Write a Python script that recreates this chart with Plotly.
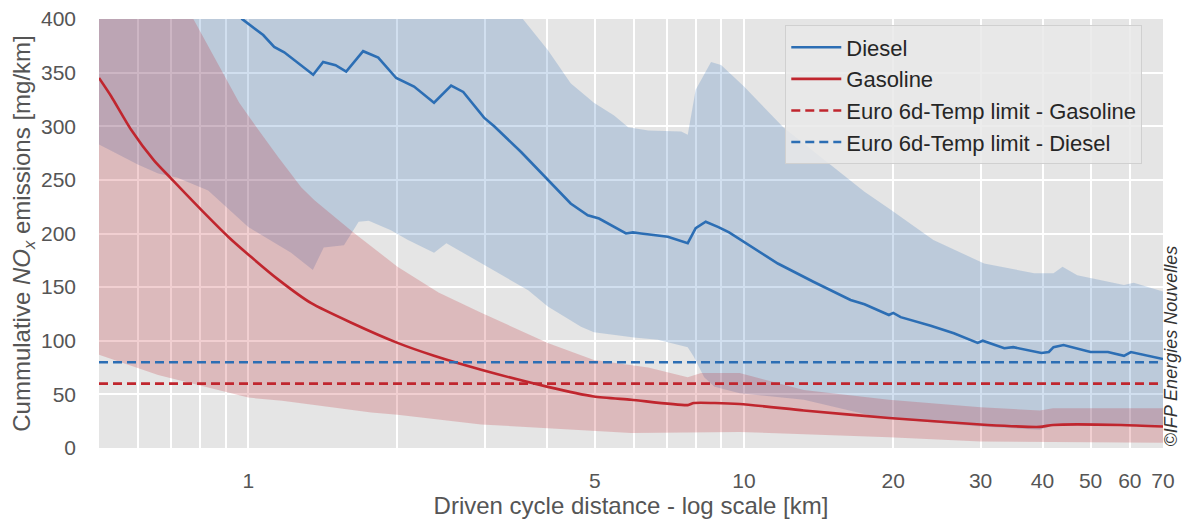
import plotly.graph_objects as go

# ---------------- data ----------------
diesel_x = [0.5, 0.6, 0.7, 0.8, 0.9, 0.972, 1.072, 1.128, 1.182, 1.279, 1.352, 1.416, 1.50, 1.576,
            1.705, 1.829, 1.988, 2.16, 2.37, 2.566, 2.714, 2.989, 3.134, 3.551, 4.02, 4.47, 4.84,
            5.10, 5.78, 5.97, 6.20, 7.02, 7.70, 7.99, 8.37, 8.88, 9.33, 10.0, 11.7, 13.8, 16.4,
            17.5, 19.6, 20.0, 20.7, 23.8, 26.5, 29.6, 30.3, 33.5, 34.9, 39.8, 41.2, 42.1, 44.1,
            50.0, 54.2, 58.4, 60.3, 70.0]
diesel_mean = [720, 610, 530, 470, 425, 400, 385, 374, 369, 357, 348, 360, 357, 351,
               370, 364, 345, 337, 322, 338, 332, 308, 300, 276, 250, 228, 217,
               214, 200, 201, 200, 197, 191, 205, 211, 206, 201, 192, 172, 155, 138,
               134, 124, 126, 122, 114, 107, 98, 100, 93, 94, 88.6, 89.5, 94, 96,
               89.5, 89.5, 86, 89.5, 83]

diesel_up_x = [0.5, 1.5, 3.0, 3.58, 4.02, 4.47, 4.98, 5.47, 5.84, 6.41, 7.47, 7.70, 7.99, 8.58,
               8.99, 10.0, 12.0, 14.8, 17.5, 19.8, 24.1, 30.5, 38.5, 42.1, 43.9, 47.0, 58.4,
               61.1, 70.0]
diesel_upper = [480, 460, 440, 400, 371, 340, 322, 310, 299, 296, 295, 292, 334, 360,
                357, 337, 299, 266, 239, 222, 194, 172, 163, 163, 169, 161, 152,
                154, 146]

diesel_lo_x = [0.5, 0.6, 0.658, 0.72, 0.83, 1.0, 1.22, 1.35, 1.42, 1.56, 1.67, 1.75, 1.94, 2.10,
               2.37, 2.51, 2.99, 3.67, 4.02, 4.69, 4.98, 6.0, 6.7, 7.7, 7.92, 8.31, 8.72, 9.8,
               13.2, 18.9, 30.0, 39.5, 42.0, 70.0]
diesel_lower = [283, 264, 256, 252, 240, 206, 182, 166, 187, 189, 211, 212, 203, 194,
                182, 191, 171, 147, 132, 113, 108, 103, 101, 94, 85, 66, 57, 51,
                45, 28, 20, 17, 21, 21]

gas_x = [0.5, 0.529, 0.58, 0.646, 0.70, 0.804, 0.911, 1.014, 1.15, 1.34, 1.61, 2.0, 2.37, 2.95,
         4.02, 4.98, 5.92, 7.7, 7.92, 9.8, 13.2, 19.6, 31.0, 39.5, 42.0, 57.6, 70.0]
gas_mean = [345, 328, 297, 268, 251, 222, 197, 178, 157, 135, 117, 98, 86, 73,
            57, 48, 45, 40, 42, 41, 35, 28, 21.5, 19.7, 21.5, 21.5, 20]

gas_up_x = [0.5, 0.65, 0.775, 0.911, 0.959, 1.014, 1.15, 1.28, 1.36, 1.63, 2.0, 2.42, 2.95, 4.02,
            4.98, 6.41, 7.7, 8.19, 9.8, 13.2, 19.6, 30.0, 39.5, 42.0, 70.0]
gas_upper = [520, 450, 400, 340, 322, 306, 271, 243, 231, 201, 169, 145, 126, 98,
             82, 75, 66, 70, 70, 54, 45, 38, 35, 37, 37]

gas_lo_x = [0.5, 0.658, 0.767, 1.0, 1.17, 1.36, 1.77, 2.0, 2.95, 4.02, 5.92, 9.8, 19.6, 30.0, 70.0]
gas_lower = [87, 68, 60, 47, 44, 40, 33, 31, 22, 18.6, 14, 15, 10, 6, 5]

limit_gasoline = 60
limit_diesel = 80
x_limits = [0.5, 70]

x_tick_vals = [1, 5, 10, 20, 30, 40, 50, 60, 70]
x_tick_text = ["1", "5", "10", "20", "30", "40", "50", "60", "70"]
x_minor_grid = [0.6, 0.7, 0.8, 0.9, 2, 3, 4, 6, 7, 8, 9]
y_ticks = [0, 50, 100, 150, 200, 250, 300, 350, 400]

# ---------------- styling ----------------
BLUE = "#2C6EB4"
RED = "#C0262E"
FONT = "Liberation Sans, Arial, sans-serif"

fig = go.Figure()


def band(xu, yu, xl, yl, color):
    fig.add_trace(go.Scatter(
        x=list(xu) + list(reversed(xl)),
        y=list(yu) + list(reversed(yl)),
        fill="toself", fillcolor=color, mode="lines",
        line=dict(width=0, color=color), showlegend=False, hoverinfo="skip"))


band(diesel_up_x, diesel_upper, diesel_lo_x, diesel_lower, "rgba(44,110,180,0.22)")
band(gas_up_x, gas_upper, gas_lo_x, gas_lower, "rgba(192,38,46,0.22)")

fig.add_trace(go.Scatter(x=diesel_x, y=diesel_mean, mode="lines", name="Diesel",
                         line=dict(color=BLUE, width=2.6), legendgroup="a"))
fig.add_trace(go.Scatter(x=gas_x, y=gas_mean, mode="lines", name="Gasoline",
                         line=dict(color=RED, width=2.6, shape="spline", smoothing=0.6),
                         legendgroup="b"))
fig.add_trace(go.Scatter(x=x_limits, y=[limit_gasoline] * 2, mode="lines",
                         name="Euro 6d-Temp limit - Gasoline",
                         line=dict(color=RED, width=2.6, dash="9px,5px"), legendgroup="c"))
fig.add_trace(go.Scatter(x=x_limits, y=[limit_diesel] * 2, mode="lines",
                         name="Euro 6d-Temp limit - Diesel",
                         line=dict(color=BLUE, width=2.6, dash="9px,5px"), legendgroup="d"))

fig.update_layout(
    width=1184, height=514,
    margin=dict(l=91, r=29, t=11, b=74, autoexpand=False),
    paper_bgcolor="white", plot_bgcolor="#E5E5E5",
    font=dict(family=FONT, size=21, color="#555555"),
    showlegend=True,
    legend=dict(x=0.645, xanchor="left", y=0.985, yanchor="top",
                bgcolor="rgba(233,233,233,0.85)", bordercolor="#D0D0D0", borderwidth=1,
                font=dict(size=22, color="#262626"), tracegroupgap=0,
                itemwidth=50),
    xaxis=dict(type="log", range=[-0.30103, 1.8451], automargin=False,
               tickvals=x_tick_vals, ticktext=x_tick_text, ticklabeloverflow="allow",
               showgrid=True, gridcolor="white", gridwidth=1.8,
               minor=dict(tickvals=x_minor_grid, showgrid=True, gridcolor="white",
                          gridwidth=1.8, ticks=""),
               zeroline=False, showline=False, ticks="", ticklabelstandoff=18,
               tickfont=dict(size=21, color="#555555"),
               title=dict(text="Driven cycle distance - log scale [km]",
                          font=dict(size=24, color="#555555"), standoff=4)),
    yaxis=dict(range=[0, 400], tickvals=y_ticks, automargin=False,
               ticklabeloverflow="allow",
               showgrid=True, gridcolor="white", gridwidth=1.8,
               zeroline=False, showline=False, ticks="", ticklabelstandoff=22,
               tickfont=dict(size=21, color="#555555"),
               title=dict(text="Cummulative <i>NO<sub>x</sub></i> emissions [mg/km]",
                          font=dict(size=24, color="#555555"), standoff=6)),
    annotations=[dict(text="<i>©IFP Energies Nouvelles</i>", xref="paper", yref="paper",
                      x=1.0075, y=0.0, xanchor="center", yanchor="bottom",
                      textangle=-90, showarrow=False,
                      font=dict(size=18, color="#333333", family=FONT))],
)

fig.write_html("out.html")
